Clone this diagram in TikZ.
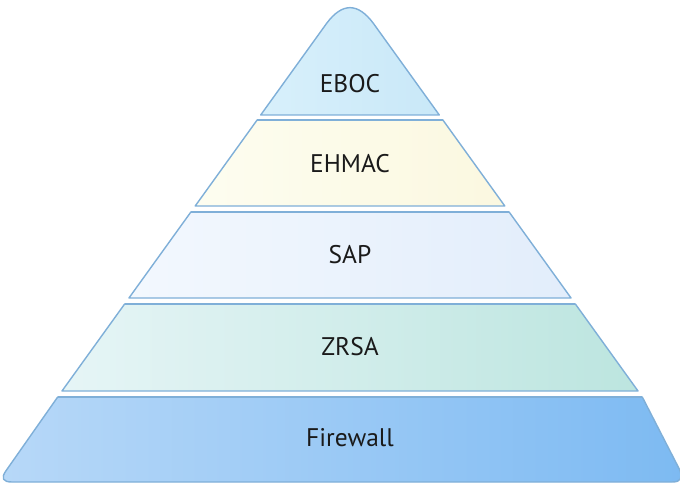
\documentclass[tikz,border=0pt]{standalone}
\usepackage{fontspec}
\setmainfont{PT Sans}
\definecolor{edge}{HTML}{7FAFD8}
\definecolor{txt}{HTML}{1A1A1A}
\definecolor{ebocA}{HTML}{D8F0FB}
\definecolor{ebocB}{HTML}{C9E8F8}
\definecolor{ehmacA}{HTML}{FDFDF0}
\definecolor{ehmacB}{HTML}{FBF8E0}
\definecolor{sapA}{HTML}{F3F8FE}
\definecolor{sapB}{HTML}{E2EDFB}
\definecolor{zrsaA}{HTML}{E6F5F6}
\definecolor{zrsaB}{HTML}{BCE5DF}
\definecolor{fwA}{HTML}{B7D8F8}
\definecolor{fwB}{HTML}{7DBAF2}

\begin{document}
\begin{tikzpicture}[x=0.02cm,y=-0.02cm,
		layer/.style={draw=edge,line width=0.8pt,line join=round},
		topline/.style={draw=edge,line width=1.4pt},
		tag/.style={font=\fontsize{14.5}{17}\selectfont,text=txt}]
		\useasboundingbox (0,0) rectangle (680,483);
		% tip of the pyramid
		\path[layer,left color=ebocA,right color=ebocB] (260.7,115)--(326.6,23.4) .. controls (342.2,2.4) and (357.8,2.4) .. (373.4,23.4)--(439.3,115)--cycle;
		% middle layers
		\foreach \t/\b/\ca/\cb in {120/206/ehmacA/ehmacB,212/298/sapA/sapB,304/391/zrsaA/zrsaB}{
			\path[layer,left color=\ca,right color=\cb] ({350-0.72*(\t+9)},\t)--({350+0.72*(\t+9)},\t)--({350+0.72*(\b+9)},\b)--({350-0.72*(\b+9)},\b)--cycle;
			\draw[topline] ({350-0.72*(\t+9)},\t)--({350+0.72*(\t+9)},\t);
		}
		% base layer
		\path[layer,left color=fwA,right color=fwB] (57.7,397)--(6.1,470.6) .. controls (0.7,478.2) and (2.7,482) .. (12,482)--(672,482) .. controls (681.3,482) and (682.5,477.9) .. (679.6,469.6)--(642.3,397)--cycle;
		\draw[topline] (57.7,397)--(642.3,397);
		\node (eboc) at(350,84)[tag]{EBOC};
		\node (ehmac) at(350,164)[tag]{EHMAC};
		\node (sap) at(350,255)[tag]{SAP};
		\node (zrsa) at(350,347)[tag]{ZRSA};
		\node (firewall) at(350,438)[tag]{Firewall};
	\end{tikzpicture}
\end{document}
